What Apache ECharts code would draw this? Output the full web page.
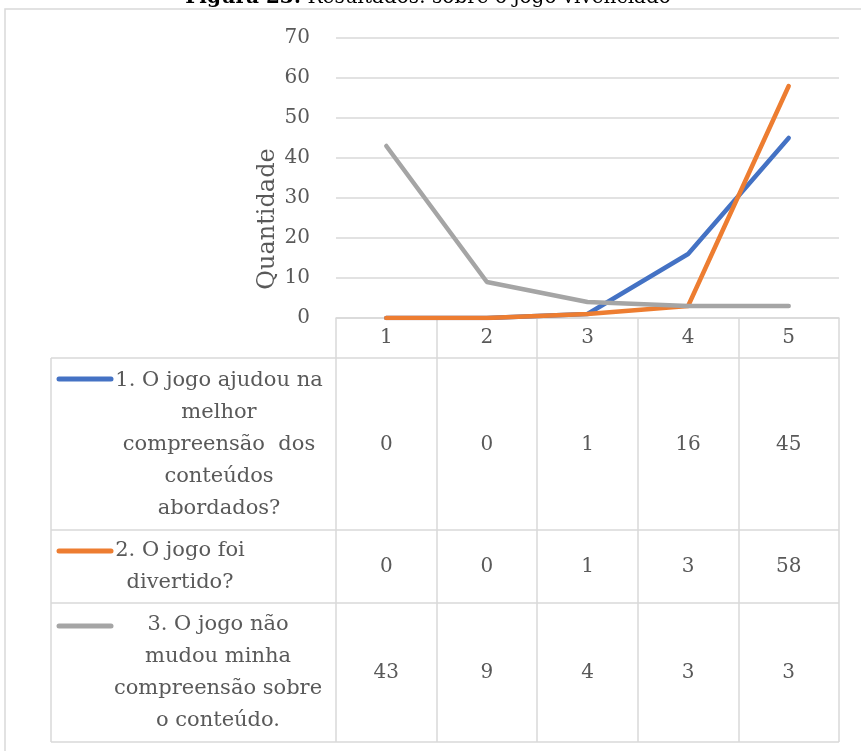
<!DOCTYPE html>
<html>
<head>
<meta charset="utf-8">
<script src="https://cdn.jsdelivr.net/npm/echarts@6/dist/echarts.min.js"></script>
<style>
  html, body { margin: 0; padding: 0; background: #fff; }
  #chart { width: 861px; height: 751px; }
</style>
</head>
<body>
<div id="chart"></div>
<script>
// dados
const categories = ['1', '2', '3', '4', '5']
const seriesNames = [
  '1. O jogo ajudou na melhor compreensão dos conteúdos abordados?',
  '2. O jogo foi divertido?',
  '3. O jogo não mudou minha compreensão sobre o conteúdo.'
]
const ajudou = [0, 0, 1, 16, 45]
const divertido = [0, 0, 1, 3, 58]
const naoMudou = [43, 9, 4, 3, 3]
const legendLines = [
  '1. O jogo ajudou na\nmelhor\ncompreensão  dos\nconteúdos\nabordados?',
  '2. O jogo foi\ndivertido?',
  '3. O jogo não\nmudou minha\ncompreensão sobre\no conteúdo.'
]
const colors = ['#4472C4', '#ED7D31', '#A5A5A5']

const font = 'DejaVu Serif'
const textColor = '#595959'
const borderColor = '#d9d9d9'

// layout da tabela de dados
const plotLeft = 336
const plotRight = 839
const axisY = 318
const tableLeft = 51
const rowLines = [358, 530, 603, 742]
const rowCenters = [445, 567, 673]
const legendCenterX = [219, 180, 218]
const markerY = [379, 551, 626]

const rows = [ajudou, divertido, naoMudou]

function rowAxis (values, center) {
  return {
    type: 'category',
    data: categories,
    position: 'bottom',
    offset: center - axisY - 10,
    axisLine: { show: false },
    axisTick: { show: false },
    splitLine: { show: false },
    axisLabel: {
      interval: 0,
      margin: 0,
      lineHeight: 20,
      fontFamily: font,
      fontSize: 20,
      color: textColor,
      formatter: (v, i) => String(values[i])
    }
  }
}

const graphics = []
// moldura externa
graphics.push({
  type: 'rect',
  shape: { x: 5, y: 9, width: 900, height: 800 },
  style: { fill: null, stroke: borderColor, lineWidth: 1.5 },
  silent: true
})
// título (cortado no topo)
graphics.push({
  type: 'text',
  x: 428,
  y: -2,
  style: {
    text: '{b|Figura 23:} Resultados: sobre o jogo vivenciado',
    align: 'center',
    verticalAlign: 'middle',
    fontFamily: font,
    fontSize: 20,
    fill: '#000',
    rich: { b: { fontWeight: 'bold', fontFamily: font, fontSize: 20, fill: '#000' } }
  }
})
// título do eixo vertical
graphics.push({
  type: 'text',
  x: 268,
  y: 219,
  rotation: Math.PI / 2,
  style: {
    text: 'Quantidade',
    align: 'center',
    verticalAlign: 'middle',
    fontFamily: font,
    fontSize: 24,
    fill: textColor
  }
})
// linhas horizontais da tabela
rowLines.forEach(y => {
  graphics.push({
    type: 'line',
    shape: { x1: tableLeft, y1: y, x2: plotRight, y2: y },
    style: { stroke: borderColor, lineWidth: 1.5 },
    silent: true
  })
})
graphics.push({
  type: 'line',
  shape: { x1: tableLeft, y1: rowLines[0], x2: tableLeft, y2: rowLines[rowLines.length - 1] },
  style: { stroke: borderColor, lineWidth: 1.5 },
  silent: true
})
// legenda dentro da tabela
legendLines.forEach((txt, i) => {
  graphics.push({
    type: 'line',
    shape: { x1: 59, y1: markerY[i], x2: 111, y2: markerY[i] },
    style: { stroke: colors[i], lineWidth: 5, lineCap: 'round' },
    silent: true
  })
  graphics.push({
    type: 'text',
    x: legendCenterX[i],
    y: rowCenters[i],
    style: {
      text: txt,
      align: 'center',
      verticalAlign: 'middle',
      lineHeight: 32,
      fontFamily: font,
      fontSize: 21,
      fill: textColor
    }
  })
})

const options = {
  animation: false,
  backgroundColor: '#fff',
  grid: {
    left: plotLeft,
    right: 861 - plotRight,
    top: 38,
    bottom: 751 - axisY,
    containLabel: false,
    outerBoundsMode: 'none'
  },
  xAxis: [
    {
      type: 'category',
      data: categories,
      boundaryGap: true,
      position: 'bottom',
      axisLine: { show: true, lineStyle: { color: borderColor, width: 1.5 } },
      axisTick: {
        show: true,
        inside: false,
        length: rowLines[rowLines.length - 1] - axisY,
        lineStyle: { color: borderColor, width: 1.5 }
      },
      splitLine: { show: false },
      axisLabel: {
        interval: 0,
        margin: 10,
        lineHeight: 20,
        fontFamily: font,
        fontSize: 20,
        color: textColor
      }
    },
    rowAxis(ajudou, rowCenters[0]),
    rowAxis(divertido, rowCenters[1]),
    rowAxis(naoMudou, rowCenters[2])
  ],
  yAxis: {
    type: 'value',
    min: 0,
    max: 70,
    interval: 10,
    axisLine: { show: false },
    axisTick: { show: false },
    splitLine: { lineStyle: { color: borderColor, width: 1.5 } },
    axisLabel: { margin: 26, fontFamily: font, fontSize: 20, color: textColor }
  },
  series: rows.map((values, i) => ({
    name: seriesNames[i],
    type: 'line',
    data: values,
    symbol: 'none',
    lineStyle: { color: colors[i], width: 4.5, cap: 'round', join: 'round' },
    itemStyle: { color: colors[i] }
  })),
  graphic: graphics
}

const chart = echarts.init(document.getElementById('chart'))
chart.setOption(options, true)
</script>
</body>
</html>
